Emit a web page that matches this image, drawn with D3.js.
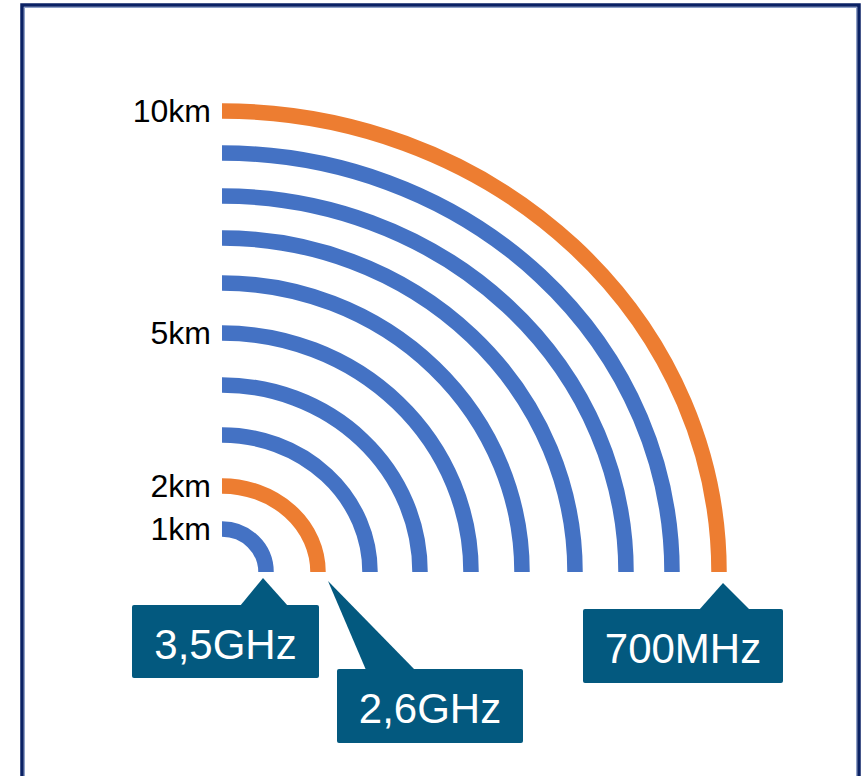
<!DOCTYPE html>
<html>
<head>
<meta charset="utf-8">
<script src="https://cdn.jsdelivr.net/npm/d3@7"></script>
<style>
  html, body { margin: 0; padding: 0; background: #fff; }
  svg { display: block; }
</style>
</head>
<body>
<svg id="chart" width="865" height="776"></svg>
<script>
// ---- data ----
const distancesKm = [1, 2, 3, 4, 5, 6, 7, 8, 9, 10];
// horizontal and vertical reach of each quarter-arc (drawing units)
const reachX = [44, 96, 148, 198, 249, 300, 353, 404, 450, 497];
const reachY = [43, 86, 137, 187, 239, 289, 334, 376, 419, 461];
const highlighted = [2, 10];                 // km arcs drawn in orange
const tickKm = [1, 2, 5, 10];
const tickLabels = ["1km", "2km", "5km", "10km"];
const bandLabels = ["3,5GHz", "2,6GHz", "700MHz"];
const bandKm = [1, 2, 10];

// ---- layout ----
const svg = d3.select("#chart");
const blue = "#4472C4", orange = "#ED7D31", boxFill = "#03597f";

const x = d3.scaleLinear().domain([0, 500]).range([222, 722]);
const y = d3.scaleLinear().domain([0, 500]).range([572, 72]);

// frame
svg.append("rect").attr("x", 22).attr("y", 5).attr("width", 837).attr("height", 820)
  .attr("fill", "none").attr("stroke", "#0b2265").attr("stroke-width", 3.5);
svg.append("rect").attr("x", 24.5).attr("y", 7.5).attr("width", 832).attr("height", 820)
  .attr("fill", "none").attr("stroke", "#8fa1c9").attr("stroke-width", 1);

// arcs
const arcs = distancesKm.map((d, i) => ({ km: d, rx: reachX[i], ry: reachY[i] }));
function arcPath(d) {
  const cx = x(0), cy = y(0);
  const rx = x(d.rx) - cx, ry = cy - y(d.ry);
  return `M${cx},${cy - ry} A${rx},${ry} 0 0 1 ${cx + rx},${cy}`;
}
svg.append("g").selectAll("path").data(arcs).join("path")
  .attr("d", arcPath)
  .attr("fill", "none")
  .attr("stroke", d => highlighted.includes(d.km) ? orange : blue)
  .attr("stroke-width", 15.5)
  .attr("stroke-linecap", "butt");

// distance labels
svg.append("g").selectAll("text").data(tickKm).join("text")
  .attr("x", 211)
  .attr("y", d => y(reachY[distancesKm.indexOf(d)]) + 11)
  .attr("text-anchor", "end")
  .attr("font-family", "Liberation Sans, Arial, sans-serif")
  .attr("font-size", 32)
  .attr("fill", "#000")
  .text((d, i) => tickLabels[i]);

// callouts (box + pointer toward the end of the arc)
const callouts = [
  { box: [132, 605, 187, 73], base: [240, 288], apexOff: [-3, 578] },
  { box: [337, 669, 186, 74], base: [366, 415], apexOff: [10, 581] },
  { box: [583, 609, 200, 74], base: [699, 750], apexOff: [4, 583] }
];
callouts.forEach((c, i) => {
  const idx = distancesKm.indexOf(bandKm[i]);
  const endX = x(reachX[idx]);
  const [bx, by, bw, bh] = c.box;
  const ax = endX + c.apexOff[0], ay = c.apexOff[1];
  const g = svg.append("g");
  g.append("path")
    .attr("d", `M${c.base[0]},${by + 1} L${ax},${ay} L${c.base[1]},${by + 1} Z`)
    .attr("fill", boxFill);
  g.append("rect")
    .attr("x", bx).attr("y", by).attr("width", bw).attr("height", bh)
    .attr("rx", 2).attr("fill", boxFill);
  g.append("text")
    .attr("x", bx + bw / 2)
    .attr("y", by + bh / 2 + 17)
    .attr("text-anchor", "middle")
    .attr("font-family", "Liberation Sans, Arial, sans-serif")
    .attr("font-size", 42)
    .attr("fill", "#fff")
    .text(bandLabels[i]);
});
</script>
</body>
</html>
